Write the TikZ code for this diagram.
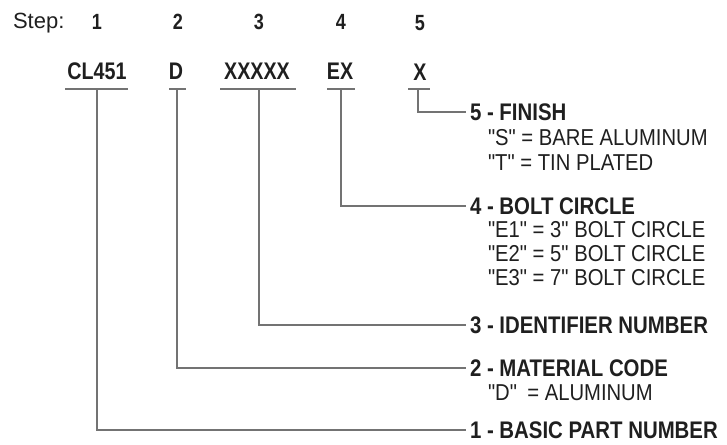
\documentclass[tikz,border=0pt]{standalone}
\usepackage{fontspec}
\setmainfont{Liberation Sans}
\newfontfamily\hdfont[FakeStretch=0.85]{Liberation Sans}
\newfontfamily\codefont[FakeStretch=0.82]{Liberation Sans}
\newfontfamily\subfont[FakeStretch=0.88]{Liberation Sans}
\begin{document}
\begin{tikzpicture}[x=1pt,y=-1pt,
  every node/.style={inner sep=0pt, outer sep=0pt, text=black!88},
  steptxt/.style={font=\fontsize{22}{26}\selectfont, anchor=base west},
  stepnum/.style={font=\codefont\bfseries\fontsize{22}{26}\selectfont, anchor=base},
  codetxt/.style={font=\codefont\bfseries\fontsize{24}{28}\selectfont, anchor=base},
  headtxt/.style={font=\hdfont\bfseries\fontsize{24}{28}\selectfont, anchor=west},
  subtxt/.style={font=\subfont\fontsize{23}{27}\selectfont, anchor=base west},
  ulinestyle/.style={draw=black!55, line width=1.2pt},
  linkstyle/.style={draw=black!55, line width=1.1pt}]
\useasboundingbox (0,0) rectangle (727,444);

% header row
\node[steptxt] (steplbl) at (13,29) {Step:};
\node[stepnum] (n1) at (97,30) {1};
\node[stepnum] (n2) at (178,30) {2};
\node[stepnum] (n3) at (259,30) {3};
\node[stepnum] (n4) at (341,30) {4};
\node[stepnum] (n5) at (420,31) {5};

% code row
\node[codetxt] (c1) at (97,79) {CL451};
\node[codetxt] (c2) at (176,79) {D};
\node[codetxt] (c3) at (257,79) {XXXXX};
\node[codetxt] (c4) at (340,79) {EX};
\node[codetxt] (c5) at (420,80) {X};

% underlines
\draw[ulinestyle] (65,89) -- (128,89);
\draw[ulinestyle] (169,89) -- (186,89);
\draw[ulinestyle] (220,89) -- (296,89);
\draw[ulinestyle] (327,89) -- (355,89);
\draw[ulinestyle] (408,89) -- (430,89);

\coordinate (u1) at (97,89);
\coordinate (u2) at (177,89);
\coordinate (u3) at (259,89);
\coordinate (u4) at (341,89);
\coordinate (u5) at (418,89);

% labels
\node[headtxt] (L5) at (470,112) {5 - FINISH};
\node[subtxt] (s5a) at (488,145) {"S" = BARE ALUMINUM};
\node[subtxt] (s5b) at (488,170) {"T" = TIN PLATED};

\node[headtxt] (L4) at (470,206) {4 - BOLT CIRCLE};
\node[subtxt] (s4a) at (488,237) {"E1" = 3" BOLT CIRCLE};
\node[subtxt] (s4b) at (488,261) {"E2" = 5" BOLT CIRCLE};
\node[subtxt] (s4c) at (488,285) {"E3" = 7" BOLT CIRCLE};

\node[headtxt] (L3) at (470,325) {3 - IDENTIFIER NUMBER};

\node[headtxt] (L2) at (470,368) {2 - MATERIAL CODE};
\node[subtxt] (s2a) at (488,400) {"D"\hspace{0.45em}= ALUMINUM};

\node[headtxt] (L1) at (470,430) {1 - BASIC PART NUMBER};

% connectors
\draw[linkstyle] (u5) |- ([xshift=-4pt]L5.west);
\draw[linkstyle] (u4) |- ([xshift=-4pt]L4.west);
\draw[linkstyle] (u3) |- ([xshift=-4pt]L3.west);
\draw[linkstyle] (u2) |- ([xshift=-4pt]L2.west);
\draw[linkstyle] (u1) |- ([xshift=-4pt]L1.west);
\end{tikzpicture}
\end{document}
